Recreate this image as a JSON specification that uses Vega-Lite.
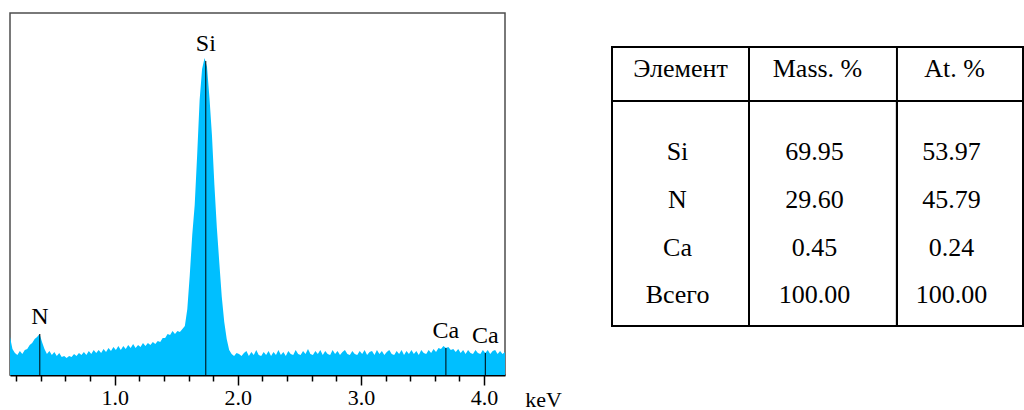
{
  "$schema": "https://vega.github.io/schema/vega-lite/v6.json",
  "padding": {"left": 9, "top": 12, "right": 0, "bottom": 0},
  "background": "white",
  "config": {
    "font": "'Liberation Serif', 'Times New Roman', 'DejaVu Serif', serif",
    "text": {"font": "'Liberation Serif', 'Times New Roman', 'DejaVu Serif', serif"},
    "axis": {"labelFont": "'Liberation Serif', 'Times New Roman', 'DejaVu Serif', serif", "titleFont": "'Liberation Serif', 'Times New Roman', 'DejaVu Serif', serif"}
  },
  "datasets": {
    "spectrum": [
      {"e":0.15,"c":38},{"e":0.17,"c":26},{"e":0.19,"c":22},{"e":0.21,"c":20},{"e":0.23,"c":24},{"e":0.25,"c":21},{"e":0.27,"c":25},{"e":0.29,"c":26},{"e":0.31,"c":30},{"e":0.33,"c":32},
      {"e":0.35,"c":36},{"e":0.37,"c":38},{"e":0.39,"c":41},{"e":0.41,"c":33},{"e":0.43,"c":26},{"e":0.45,"c":21},{"e":0.47,"c":24},{"e":0.49,"c":20},{"e":0.51,"c":23},{"e":0.53,"c":19},
      {"e":0.55,"c":22},{"e":0.57,"c":18},{"e":0.59,"c":19},{"e":0.61,"c":17},{"e":0.63,"c":19},{"e":0.65,"c":18},{"e":0.67,"c":21},{"e":0.69,"c":19},{"e":0.71,"c":22},{"e":0.73,"c":20},
      {"e":0.75,"c":23},{"e":0.77,"c":20},{"e":0.79,"c":24},{"e":0.81,"c":21},{"e":0.83,"c":25},{"e":0.85,"c":22},{"e":0.87,"c":25},{"e":0.89,"c":22},{"e":0.91,"c":26},{"e":0.93,"c":23},
      {"e":0.95,"c":27},{"e":0.97,"c":24},{"e":0.99,"c":28},{"e":1.01,"c":25},{"e":1.03,"c":29},{"e":1.05,"c":25},{"e":1.07,"c":29},{"e":1.09,"c":26},{"e":1.11,"c":30},{"e":1.13,"c":27},
      {"e":1.15,"c":31},{"e":1.17,"c":27},{"e":1.19,"c":30},{"e":1.21,"c":28},{"e":1.23,"c":32},{"e":1.25,"c":29},{"e":1.27,"c":32},{"e":1.29,"c":30},{"e":1.31,"c":33},{"e":1.33,"c":31},
      {"e":1.35,"c":34},{"e":1.37,"c":33},{"e":1.39,"c":37},{"e":1.41,"c":37},{"e":1.43,"c":41},{"e":1.45,"c":40},{"e":1.47,"c":44},{"e":1.49,"c":41},{"e":1.51,"c":44},{"e":1.53,"c":43},
      {"e":1.55,"c":46},{"e":1.57,"c":49},{"e":1.59,"c":66},{"e":1.61,"c":100},{"e":1.63,"c":140},{"e":1.65,"c":170},{"e":1.67,"c":220},{"e":1.69,"c":275},{"e":1.71,"c":306},{"e":1.73,"c":317},
      {"e":1.75,"c":308},{"e":1.77,"c":277},{"e":1.79,"c":240},{"e":1.81,"c":190},{"e":1.83,"c":147},{"e":1.85,"c":112},{"e":1.87,"c":78},{"e":1.89,"c":53},{"e":1.91,"c":36},{"e":1.93,"c":25},
      {"e":1.95,"c":21},{"e":1.97,"c":19},{"e":1.99,"c":22},{"e":2.01,"c":21},{"e":2.03,"c":19},{"e":2.05,"c":22},{"e":2.07,"c":24},{"e":2.09,"c":19},{"e":2.11,"c":23},{"e":2.13,"c":20},
      {"e":2.15,"c":25},{"e":2.17,"c":20},{"e":2.19,"c":19},{"e":2.21,"c":23},{"e":2.23,"c":20},{"e":2.25,"c":24},{"e":2.27,"c":19},{"e":2.29,"c":23},{"e":2.31,"c":20},{"e":2.33,"c":25},
      {"e":2.35,"c":20},{"e":2.37,"c":23},{"e":2.39,"c":19},{"e":2.41,"c":24},{"e":2.43,"c":21},{"e":2.45,"c":20},{"e":2.47,"c":25},{"e":2.49,"c":21},{"e":2.51,"c":20},{"e":2.53,"c":24},
      {"e":2.55,"c":21},{"e":2.57,"c":26},{"e":2.59,"c":21},{"e":2.61,"c":20},{"e":2.63,"c":24},{"e":2.65,"c":21},{"e":2.67,"c":25},{"e":2.69,"c":20},{"e":2.71,"c":24},{"e":2.73,"c":21},
      {"e":2.75,"c":20},{"e":2.77,"c":25},{"e":2.79,"c":21},{"e":2.81,"c":24},{"e":2.83,"c":20},{"e":2.85,"c":23},{"e":2.87,"c":25},{"e":2.89,"c":21},{"e":2.91,"c":20},{"e":2.93,"c":24},
      {"e":2.95,"c":21},{"e":2.97,"c":20},{"e":2.99,"c":24},{"e":3.01,"c":21},{"e":3.03,"c":25},{"e":3.05,"c":20},{"e":3.07,"c":23},{"e":3.09,"c":24},{"e":3.11,"c":20},{"e":3.13,"c":25},
      {"e":3.15,"c":21},{"e":3.17,"c":24},{"e":3.19,"c":20},{"e":3.21,"c":23},{"e":3.23,"c":25},{"e":3.25,"c":21},{"e":3.27,"c":20},{"e":3.29,"c":24},{"e":3.31,"c":21},{"e":3.33,"c":25},
      {"e":3.35,"c":20},{"e":3.37,"c":24},{"e":3.39,"c":21},{"e":3.41,"c":25},{"e":3.43,"c":21},{"e":3.45,"c":24},{"e":3.47,"c":20},{"e":3.49,"c":25},{"e":3.51,"c":22},{"e":3.53,"c":21},
      {"e":3.55,"c":25},{"e":3.57,"c":22},{"e":3.59,"c":26},{"e":3.61,"c":23},{"e":3.63,"c":27},{"e":3.65,"c":26},{"e":3.67,"c":29},{"e":3.69,"c":27},{"e":3.71,"c":28},{"e":3.73,"c":25},
      {"e":3.75,"c":26},{"e":3.77,"c":23},{"e":3.79,"c":26},{"e":3.81,"c":22},{"e":3.83,"c":25},{"e":3.85,"c":21},{"e":3.87,"c":25},{"e":3.89,"c":22},{"e":3.91,"c":21},{"e":3.93,"c":25},
      {"e":3.95,"c":22},{"e":3.97,"c":21},{"e":3.99,"c":25},{"e":4.01,"c":22},{"e":4.03,"c":25},{"e":4.05,"c":21},{"e":4.07,"c":24},{"e":4.09,"c":25},{"e":4.11,"c":21},{"e":4.13,"c":24},
      {"e":4.15,"c":21},{"e":4.17,"c":23}
    ],
    "peaks": [
      {"element": "N", "energy": 0.392, "top": 41},
      {"element": "Si", "energy": 1.74, "top": 314},
      {"element": "Ca", "energy": 3.69, "top": 27},
      {"element": "Ca", "energy": 4.01, "top": 22}
    ],
    "columns": [
      {"label": "Элемент"},
      {"label": "Mass. %"},
      {"label": "At. %"}
    ],
    "composition": [
      {"element": "Si", "mass": "69.95", "at": "53.97"},
      {"element": "N", "mass": "29.60", "at": "45.79"},
      {"element": "Ca", "mass": "0.45", "at": "0.24"},
      {"element": "Всего", "mass": "100.00", "at": "100.00"}
    ]
  },
  "bounds": "flush",
  "spacing": 107,
  "hconcat": [
    {
      "width": 495,
      "height": 362,
      "view": {"stroke": "#4d4d4d", "strokeWidth": 1.5},
      "resolve": {"axis": {"x": "independent"}},
      "layer": [
        {
          "data": {"name": "spectrum"},
          "mark": {"type": "area", "color": "#00BFFF", "interpolate": "linear"},
          "encoding": {
            "x": {
              "field": "e", "type": "quantitative",
              "scale": {"domain": [0.15, 4.17], "nice": false, "zero": false},
              "axis": {
                "orient": "bottom",
                "values": [0.2, 0.4, 0.6, 0.8, 1.2, 1.4, 1.6, 1.8, 2.2, 2.4, 2.6, 2.8, 3.2, 3.4, 3.6, 3.8],
                "tickSize": 6,
                "labels": false,
                "domainColor": "black",
                "domainWidth": 2,
                "tickColor": "black",
                "tickWidth": 1.5,
                "grid": false,
                "title": null
              }
            },
            "y": {
              "field": "c", "type": "quantitative",
              "scale": {"domain": [0, 362], "nice": false, "zero": true},
              "axis": null
            }
          }
        },
        {
          "data": {"name": "peaks"},
          "mark": {"type": "rule", "color": "black", "strokeWidth": 1},
          "encoding": {
            "x": {
              "field": "energy", "type": "quantitative",
              "axis": {
                "orient": "bottom",
                "values": [1, 2, 3, 4],
                "format": ".1f",
                "tickSize": 10,
                "tickColor": "black",
                "tickWidth": 1.5,
                "domain": false,
                "grid": false,
                "labelFont": "'Liberation Serif', 'Times New Roman', 'DejaVu Serif', serif",
                "labelFontSize": 22,
                "labelColor": "black",
                "labelPadding": 2,
                "labelOverlap": false,
                "labelFlush": false,
                "title": "keV",
                "titleFont": "'Liberation Serif', 'Times New Roman', 'DejaVu Serif', serif",
                "titleFontSize": 22,
                "titleFontWeight": "normal",
                "titleColor": "black",
                "titleX": 533,
                "titleY": 31,
                "titleAlign": "center",
                "titleBaseline": "alphabetic",
                "titleAngle": 0
              }
            },
            "y": {"field": "top", "type": "quantitative"},
            "y2": {"datum": 0}
          }
        },
        {
          "data": {"name": "peaks"},
          "mark": {"type": "text", "font": "'Liberation Serif', 'Times New Roman', 'DejaVu Serif', serif", "fontSize": 24, "baseline": "alphabetic", "dy": -10, "color": "black"},
          "encoding": {
            "x": {"field": "energy", "type": "quantitative", "axis": null},
            "y": {"field": "top", "type": "quantitative"},
            "text": {"field": "element"}
          }
        }
      ]
    },
    {
      "bounds": "flush",
      "spacing": 0,
      "vconcat": [
        {
          "width": 411,
          "height": 34,
          "view": {"stroke": null},
          "data": {"values": [{}]},
          "mark": {"type": "text", "text": ""},
          "encoding": {}
        },
        {
          "width": 411,
          "height": 54,
          "view": {"stroke": "black", "strokeWidth": 2},
          "data": {"name": "columns"},
          "layer": [
            {
              "mark": {"type": "text", "font": "'Liberation Serif', 'Times New Roman', 'DejaVu Serif', serif", "fontSize": 26, "baseline": "alphabetic", "dy": 3, "color": "black"},
              "encoding": {
                "x": {"field": "label", "type": "nominal", "scale": {"domain": ["Элемент", "Mass. %", "At. %"]}, "axis": null},
                "text": {"field": "label"}
              }
            },
            {
              "transform": [{"filter": "datum.label == 'Mass. %'"}],
              "mark": {"type": "rule", "color": "black", "strokeWidth": 2},
              "encoding": {"x": {"field": "label", "type": "nominal", "bandPosition": 0}}
            },
            {
              "transform": [{"filter": "datum.label == 'At. %'"}],
              "mark": {"type": "rule", "color": "black", "strokeWidth": 2},
              "encoding": {"x": {"field": "label", "type": "nominal", "bandPosition": 0.08}}
            }
          ]
        },
        {
          "width": 411,
          "height": 225,
          "view": {"stroke": "black", "strokeWidth": 2},
          "data": {"name": "composition"},
          "transform": [{"fold": ["element", "mass", "at"], "as": ["col", "val"]}],
          "layer": [
            {
              "mark": {"type": "text", "font": "'Liberation Serif', 'Times New Roman', 'DejaVu Serif', serif", "fontSize": 26, "baseline": "middle", "dx": -3, "color": "black"},
              "encoding": {
                "x": {"field": "col", "type": "nominal", "scale": {"domain": ["element", "mass", "at"]}, "axis": null},
                "y": {"field": "element", "type": "nominal", "scale": {"type": "point", "domain": ["Si", "N", "Ca", "Всего"], "padding": 0.863, "align": 0.626}, "axis": null},
                "text": {"field": "val"}
              }
            },
            {
              "transform": [{"filter": "datum.col == 'mass'"}],
              "mark": {"type": "rule", "color": "black", "strokeWidth": 2},
              "encoding": {"x": {"field": "col", "type": "nominal", "bandPosition": 0}}
            },
            {
              "transform": [{"filter": "datum.col == 'at'"}],
              "mark": {"type": "rule", "color": "black", "strokeWidth": 2},
              "encoding": {"x": {"field": "col", "type": "nominal", "bandPosition": 0.08}}
            }
          ]
        }
      ]
    }
  ]
}
